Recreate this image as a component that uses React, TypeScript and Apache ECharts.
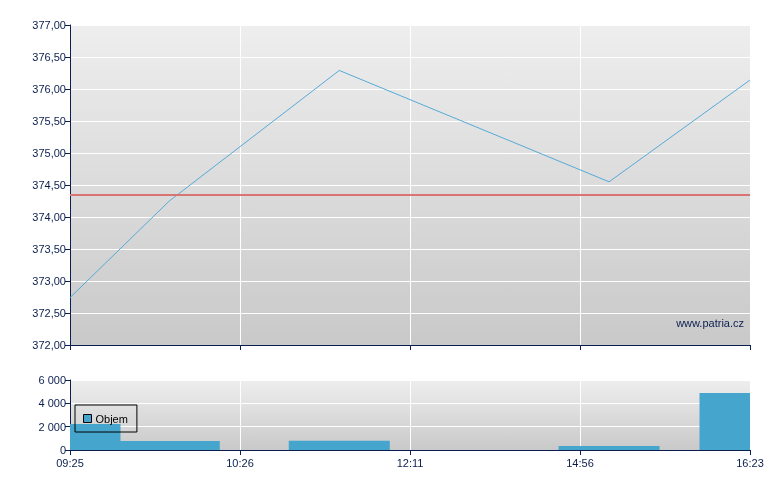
import React, { useEffect, useRef } from "react";
import * as echarts from "echarts";

const tickLabels = ["09:25", "10:26", "12:11", "14:56", "16:23"];
const pointPositions = [0, 0.584, 1.584, 3.171, 4];
const prices = [372.74, 374.25, 376.29, 374.55, 376.14];
const volumes = [2230, 780, 800, 350, 4890];
const referencePrice = 374.34;

const NAVY = "#0b1f4e";
const FONT = "Arial, 'Liberation Sans', sans-serif";
const BAR_PX = 101;

export default function App() {
  const ref = useRef<HTMLDivElement>(null);
  useEffect(() => {
    if (!ref.current) return;
    const chart = echarts.init(ref.current, undefined, { renderer: "svg" });
    const bg = () =>
      new echarts.graphic.LinearGradient(0, 0, 0, 1, [
        { offset: 0, color: "#eeeeee" },
        { offset: 1, color: "#c9c9c9" },
      ]);
    const axisCommonX = (showLabel: boolean, gridIndex: number) => ({
      type: "value" as const,
      gridIndex,
      min: 0,
      max: 4,
      interval: 1,
      axisLine: { show: true, lineStyle: { color: NAVY, width: 1 } },
      axisTick: { show: true, length: 5, lineStyle: { color: NAVY } },
      splitLine: { show: true, lineStyle: { color: "#ffffff", width: 1 } },
      axisLabel: {
        show: showLabel,
        color: NAVY,
        fontFamily: FONT,
        fontSize: 11,
        margin: 7,
        showMinLabel: true,
        showMaxLabel: true,
        formatter: (v: number) => tickLabels[Math.round(v)] ?? "",
      },
    });
    chart.setOption({
      animation: false,
      textStyle: { fontFamily: FONT },
      grid: [
        {
          left: 70,
          right: 30,
          top: 25,
          height: 320,
          show: true,
          backgroundColor: bg(),
          borderWidth: 0,
        },
        {
          left: 70,
          right: 30,
          top: 380,
          height: 70,
          show: true,
          backgroundColor: bg(),
          borderWidth: 0,
        },
      ],
      xAxis: [axisCommonX(false, 0), axisCommonX(true, 1)],
      yAxis: [
        {
          type: "value",
          gridIndex: 0,
          min: 372,
          max: 377,
          interval: 0.5,
          axisLine: { show: true, lineStyle: { color: NAVY, width: 1 } },
          axisTick: { show: true, length: 5, lineStyle: { color: NAVY } },
          splitLine: { show: true, lineStyle: { color: "#ffffff", width: 1 } },
          axisLabel: {
            color: NAVY,
            fontFamily: FONT,
            fontSize: 11,
            margin: 4,
            formatter: (v: number) => v.toFixed(2).replace(".", ","),
          },
        },
        {
          type: "value",
          gridIndex: 1,
          min: 0,
          max: 6000,
          interval: 2000,
          axisLine: { show: true, lineStyle: { color: NAVY, width: 1 } },
          axisTick: { show: true, length: 5, lineStyle: { color: NAVY } },
          splitLine: { show: true, lineStyle: { color: "#ffffff", width: 1 } },
          axisLabel: {
            color: NAVY,
            fontFamily: FONT,
            fontSize: 11,
            margin: 4,
            formatter: (v: number) =>
              String(v).replace(/\B(?=(\d{3})+(?!\d))/g, " "),
          },
        },
      ],
      legend: {
        data: [{ name: "Objem", icon: "rect" }],
        left: 75,
        top: 405,
        orient: "vertical",
        padding: [8, 9, 8, 8],
        itemWidth: 8,
        itemHeight: 8,
        itemGap: 4,
        borderColor: "#000000",
        borderWidth: 1,
        backgroundColor: "transparent",
        textStyle: { color: "#000000", fontSize: 11, fontFamily: FONT, padding: [0, 0, 0, -1] },
        itemStyle: { borderColor: "#000000", borderWidth: 1 },
        selectedMode: false,
      },
      series: [
        {
          type: "line",
          name: "Cena",
          xAxisIndex: 0,
          yAxisIndex: 0,
          data: pointPositions.map((x, i) => [x, prices[i]]),
          showSymbol: false,
          symbol: "none",
          lineStyle: { color: "#55aad6", width: 1 },
          itemStyle: { color: "#55aad6" },
          markLine: {
            silent: true,
            symbol: "none",
            label: { show: false },
            lineStyle: { color: "#d87474", width: 2, type: "solid" },
            data: [{ yAxis: referencePrice }],
          },
        },
        {
          type: "custom",
          name: "Objem",
          xAxisIndex: 1,
          yAxisIndex: 1,
          data: pointPositions.map((x, i) => [x, volumes[i]]),
          itemStyle: { color: "#45a5cc" },
          renderItem: (params: any, api: any) => {
            const top = api.coord([api.value(0), api.value(1)]);
            const base = api.coord([api.value(0), 0]);
            const rect = echarts.graphic.clipRectByRect(
              {
                x: top[0] - BAR_PX / 2,
                y: top[1],
                width: BAR_PX,
                height: base[1] - top[1],
              },
              {
                x: params.coordSys.x,
                y: params.coordSys.y,
                width: params.coordSys.width,
                height: params.coordSys.height,
              }
            );
            return rect
              ? { type: "rect", shape: rect, style: { fill: "#45a5cc" } }
              : null;
          },
          encode: { x: 0, y: 1 },
        },
      ],
      graphic: [
        {
          type: "text",
          right: 36,
          top: 317,
          style: {
            text: "www.patria.cz",
            fill: NAVY,
            font: `11px ${FONT}`,
          },
        },
      ],
    });
    return () => chart.dispose();
  }, []);
  return (
    <div
      ref={ref}
      style={{ position: "fixed", left: 0, top: 0, width: 780, height: 490 }}
    />
  );
}
